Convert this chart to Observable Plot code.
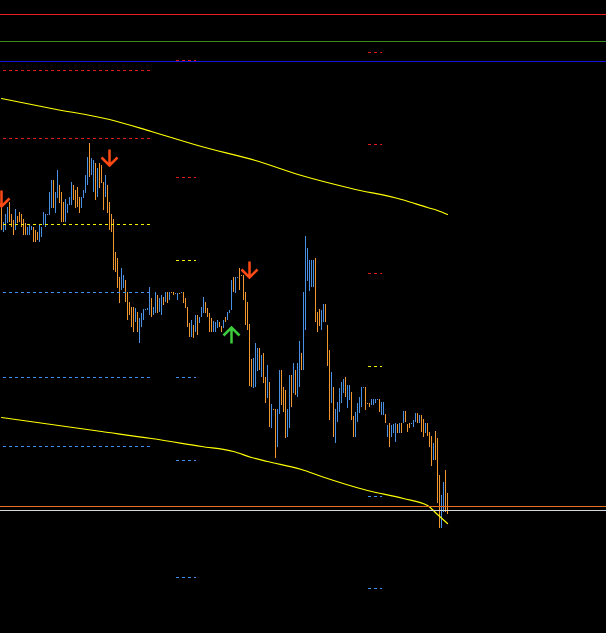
<!DOCTYPE html>
<html><head><meta charset="utf-8">
<script src="https://cdn.jsdelivr.net/npm/d3@7"></script>
<script src="https://cdn.jsdelivr.net/npm/@observablehq/plot@0.6"></script>
<style>html,body{margin:0;padding:0;background:#000;overflow:hidden}</style>
</head><body><div id="chart"></div>
<script>
// Bar highs / lows (price) for 224 consecutive bars
const barHigh = [
1.2093,1.2078,1.2086,1.2093,1.2098,1.2086,1.2080,1.2091,1.2084,1.2088,
1.2086,1.2081,1.2077,1.2073,1.2075,1.2074,1.2073,1.2070,1.2068,1.2075,
1.2073,1.2088,1.2086,1.2086,1.2108,1.2120,1.2120,1.2108,1.2130,1.2115,
1.2108,1.2098,1.2101,1.2096,1.2103,1.2118,1.2115,1.2110,1.2113,1.2103,
1.2103,1.2110,1.2125,1.2143,1.2157,1.2142,1.2140,1.2137,1.2132,1.2137,
1.2135,1.2118,1.2125,1.2115,1.2098,1.2086,1.2081,1.2048,1.2042,1.2023,
1.2032,1.2025,1.2020,1.2008,1.1998,1.1993,1.1993,1.1992,1.1988,1.1982,
1.1987,1.1991,1.1991,1.1992,1.2013,1.2002,1.1993,1.2008,1.2005,1.2002,
1.2005,1.2003,1.2008,1.2008,1.2008,1.2008,1.2008,1.2007,1.2007,1.2007,
1.2008,1.2008,1.2002,1.1993,1.1977,1.1980,1.1975,1.1985,1.1985,1.1983,
1.1993,1.2003,1.1998,1.1992,1.1987,1.1982,1.1979,1.1978,1.1980,1.1978,
1.1974,1.1980,1.1983,1.1988,1.1990,1.2020,1.2023,1.2023,1.2023,1.2032,
1.2025,1.2025,1.2008,1.1998,1.1976,1.1941,1.1942,1.1957,1.1952,1.1952,
1.1945,1.1947,1.1923,1.1935,1.1918,1.1896,1.1891,1.1891,1.1891,1.1930,
1.1930,1.1913,1.1910,1.1891,1.1925,1.1925,1.1937,1.1930,1.1937,1.1959,
1.1947,1.2008,1.2064,1.2052,1.2040,1.2040,1.2040,1.2042,1.1988,1.1991,
1.1990,1.1996,1.1996,1.1975,1.1950,1.1928,1.1913,1.1891,1.1898,1.1912,
1.1918,1.1921,1.1923,1.1915,1.1915,1.1908,1.1884,1.1888,1.1897,1.1903,
1.1913,1.1913,1.1913,1.1897,1.1897,1.1901,1.1901,1.1901,1.1901,1.1901,
1.1898,1.1898,1.1886,1.1875,1.1877,1.1875,1.1876,1.1877,1.1876,1.1877,
1.1877,1.1889,1.1889,1.1876,1.1877,1.1877,1.1880,1.1887,1.1887,1.1885,
1.1885,1.1881,1.1877,1.1877,1.1868,1.1864,1.1857,1.1869,1.1862,1.1825,
1.1805,1.1818,1.1830,1.1807];
const barLow = [
1.2070,1.2068,1.2070,1.2077,1.2078,1.2073,1.2065,1.2070,1.2077,1.2078,
1.2073,1.2065,1.2065,1.2065,1.2065,1.2070,1.2058,1.2058,1.2060,1.2058,
1.2063,1.2075,1.2073,1.2085,1.2085,1.2092,1.2092,1.2087,1.2102,1.2097,
1.2078,1.2078,1.2078,1.2087,1.2095,1.2095,1.2100,1.2092,1.2093,1.2087,
1.2092,1.2102,1.2107,1.2115,1.2123,1.2125,1.2108,1.2100,1.2103,1.2112,
1.2117,1.2090,1.2103,1.2087,1.2070,1.2068,1.2030,1.2028,1.2012,1.1997,
1.2010,1.2012,1.1998,1.1980,1.1985,1.1973,1.1968,1.1978,1.1968,1.1957,
1.1973,1.1980,1.1990,1.1990,1.1985,1.1983,1.1985,1.1987,1.1987,1.1988,
1.1985,1.1995,1.1998,1.1997,1.2000,1.2007,1.2005,1.2006,1.2000,1.2006,
1.2007,1.1997,1.1992,1.1973,1.1963,1.1963,1.1962,1.1968,1.1965,1.1977,
1.1983,1.1987,1.1987,1.1983,1.1968,1.1968,1.1968,1.1968,1.1972,1.1973,
1.1968,1.1972,1.1978,1.1980,1.1987,1.1990,1.2008,1.2007,1.2022,1.2010,
1.2024,1.2000,1.1975,1.1970,1.1914,1.1913,1.1912,1.1913,1.1929,1.1930,
1.1923,1.1917,1.1897,1.1902,1.1873,1.1872,1.1890,1.1842,1.1853,1.1886,
1.1895,1.1888,1.1862,1.1863,1.1872,1.1893,1.1907,1.1905,1.1903,1.1913,
1.1930,1.1930,1.1970,1.2019,1.2009,1.2013,1.2013,1.1978,1.1968,1.1974,
1.1970,1.1978,1.1978,1.1934,1.1880,1.1897,1.1863,1.1857,1.1878,1.1888,
1.1897,1.1907,1.1903,1.1892,1.1900,1.1880,1.1863,1.1863,1.1878,1.1887,
1.1893,1.1912,1.1890,1.1896,1.1893,1.1895,1.1895,1.1897,1.1900,1.1888,
1.1885,1.1885,1.1877,1.1863,1.1853,1.1863,1.1867,1.1858,1.1867,1.1867,
1.1867,1.1877,1.1878,1.1868,1.1872,1.1876,1.1873,1.1878,1.1877,1.1877,
1.1868,1.1863,1.1867,1.1864,1.1853,1.1834,1.1840,1.1840,1.1797,1.1772,
1.1772,1.1788,1.1788,1.1786];
// 1 = bullish bar, 0 = bearish bar
const barUp = [
0,1,1,1,0,0,0,1,0,0, 0,0,0,1,1,1,0,0,0,1, 1,1,1,1,1,1,0,1,1,0,
0,0,1,1,1,1,0,0,0,0, 1,1,1,1,0,1,1,0,1,0, 0,0,1,0,0,0,0,0,0,0,
1,1,0,0,0,0,0,1,0,1, 1,1,1,1,1,0,1,1,0,1, 1,0,1,0,1,0,0,1,1,0,
1,0,0,0,0,1,0,1,0,1, 1,1,0,0,0,0,1,1,1,0, 0,1,0,1,1,1,0,1,1,0,
0,0,0,0,0,0,1,1,1,0, 1,0,0,1,0,1,0,0,1,1, 0,0,0,1,1,0,1,0,1,1,
0,1,1,1,1,1,1,0,0,0, 1,1,0,0,0,1,0,1,1,1, 1,1,0,1,1,0,0,1,1,1,
1,1,0,0,0,1,1,1,1,0, 1,1,0,1,0,1,1,1,0,1, 0,1,0,0,0,1,1,1,0,1,
0,0,1,0,0,0,1,0,0,0, 1,1,0,0];

// Envelope / moving-average bands (bar index -> price)
const upperBandBar = [0,25,54,75,100,127,150,175,200,213,218,223];
const upperBand = [1.2202,1.2192,1.2181,1.2169,1.2154,1.2140,1.2125,1.2112,1.2101,1.2093,1.2090,1.2086];
const lowerBandBar = [0,25,50,75,100,116,125,133,150,160,183,201,213,218,223];
const lowerBand = [1.1883,1.1876,1.1869,1.1862,1.1854,1.1849,1.1843,1.1839,1.1831,1.1824,1.1810,1.1802,1.1795,1.1786,1.1777];

// Full-width horizontal levels
const hLevelPrice = [1.2286, 1.2259, 1.2239, 1.1794, 1.1790];
const hLevelKind = ["high", "mid", "low", "bid", "ask"];

// Pivot level sets: bar span and levels
const pivotSetFrom = [1, 87.5, 183.5];
const pivotSetTo = [74.5, 97.5, 190.5];
const pivotSetLevels = [
  [1.2230, 1.2162, 1.2076, 1.2008, 1.1923, 1.1854],
  [1.2240, 1.2123, 1.2040, 1.1923, 1.1840, 1.1723],
  [1.2248, 1.2156, 1.2027, 1.1934, 1.1804, 1.1712]
];
const pivotSetKinds = [
  ["R","R","P","S","S","S"],
  ["R","R","P","S","S","S"],
  ["R","R","R","P","S","S"]
];

// Signal arrows
const arrowBar = [0, 54, 124, 115];
const arrowPrice = [1.2094, 1.2135, 1.2023, 1.1973];
const arrowDir = ["down", "down", "down", "up"];

// ---- styles ----
const COL_UP = "#4a90e2", COL_DN = "#f0962e";
const hColor = {high: "#e81e1e", mid: "#3a8c1e", low: "#1414dc", bid: "#e8701e", ask: "#d8d8d8"};
const pColor = {R: "#e01a1a", P: "#f2f200", S: "#3f8ff0"};

const bars = barHigh.map((h, i) => ({i, high: h, low: barLow[i], up: barUp[i] === 1}));
const upperRows = upperBandBar.map((b, k) => ({i: b, p: upperBand[k]}));
const lowerRows = lowerBandBar.map((b, k) => ({i: b, p: lowerBand[k]}));
const hRows = hLevelPrice.map((p, k) => ({p, c: hColor[hLevelKind[k]]}));
const pivotRows = [];
pivotSetLevels.forEach((lv, s) => lv.forEach((p, k) => pivotRows.push({x1: pivotSetFrom[s], x2: pivotSetTo[s], p, c: pColor[pivotSetKinds[s][k]]})));
const arrows = arrowBar.map((b, k) => ({i: b, p: arrowPrice[k], dir: arrowDir[k]}));

const downArrow = {draw(ctx) { ctx.moveTo(0, 0); ctx.lineTo(0, -16); ctx.moveTo(-8, -8); ctx.lineTo(0, 0); ctx.lineTo(8, -8); }};
const upArrow = {draw(ctx) { ctx.moveTo(0, 0); ctx.lineTo(0, 16); ctx.moveTo(-8, 8); ctx.lineTo(0, 0); ctx.lineTo(8, 8); }};

const marks = [
  Plot.ruleX(bars.filter(d => !d.up), {x: "i", y1: "low", y2: "high", stroke: COL_DN, strokeWidth: 1}),
  Plot.ruleX(bars.filter(d => d.up), {x: "i", y1: "low", y2: "high", stroke: COL_UP, strokeWidth: 1}),
  Plot.line(upperRows, {x: "i", y: "p", stroke: "#ffff00", strokeWidth: 1.2, curve: "monotone-x"}),
  Plot.line(lowerRows, {x: "i", y: "p", stroke: "#ffff00", strokeWidth: 1.2, curve: "monotone-x"}),
];
for (const c of [...new Set(pivotRows.map(d => d.c))]) {
  marks.push(Plot.ruleY(pivotRows.filter(d => d.c === c), {x1: "x1", x2: "x2", y: "p", stroke: c, strokeWidth: 1, strokeDasharray: "3,3"}));
}
for (const r of hRows) {
  marks.push(Plot.ruleY([r], {y: "p", stroke: r.c, strokeWidth: 1}));
}
marks.push(Plot.dot(arrows.filter(d => d.dir === "down"), {x: "i", y: "p", symbol: downArrow, fill: "none", stroke: "#ff4a14", strokeWidth: 2.5, r: 5}));
marks.push(Plot.dot(arrows.filter(d => d.dir === "up"), {x: "i", y: "p", symbol: upArrow, fill: "none", stroke: "#3ccc3c", strokeWidth: 2.5, r: 5}));

const chart = Plot.plot({
  width: 606, height: 633, margin: 0,
  style: {background: "#000", overflow: "hidden"},
  x: {domain: [-0.5, 302.5], axis: null},
  y: {domain: [1.1667, 1.2300], axis: null},
  marks
});
document.getElementById("chart").appendChild(chart);
</script>
</body></html>
